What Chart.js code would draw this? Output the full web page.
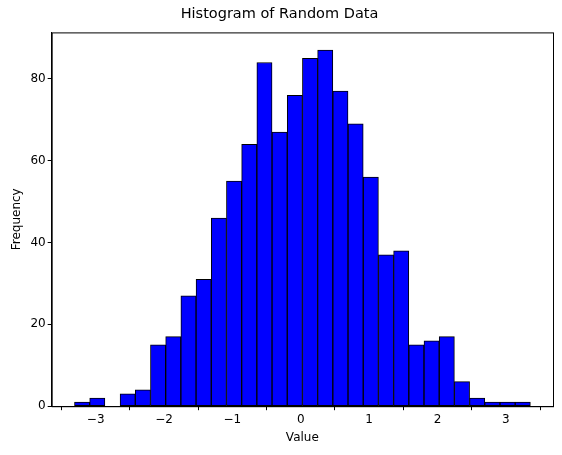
<!DOCTYPE html>
<html><head><script src="https://cdn.jsdelivr.net/npm/chart.js@4"></script>
<style>body{margin:0;background:#fff}#w{width:562px;height:455px}</style></head>
<body><div id="w"><canvas id="c"></canvas></div>
<script>
const binStart = -3.31;
const binWidth = 0.2223;
const counts = [1,2,0,3,4,15,17,27,31,46,55,64,84,67,76,85,87,77,69,56,37,38,15,16,17,6,2,1,1,1];
const xTicks = [-3,-2,-1,0,1,2,3];
const yTicks = [0,20,40,60,80];
const data = counts.map((v,i)=>({x: binStart + binWidth*(i+0.5), y: v}));
const F = {family:'DejaVu Sans',size:12};
new Chart(document.getElementById('c'), {
  type: 'bar',
  data: { datasets: [{ data, backgroundColor:'#0000ff', borderColor:'#000', borderWidth:1, barPercentage:1, categoryPercentage:1, borderSkipped:false }] },
  options: {
    responsive:true, maintainAspectRatio:false, animation:false,
    layout:{padding:{left:6,right:9,top:4,bottom:6}},
    plugins:{legend:{display:false}, tooltip:{enabled:false},
      title:{display:true,text:'Histogram of Random Data',color:'#000',font:{family:'DejaVu Sans',size:14.5,weight:'normal'},padding:{top:2,bottom:9}}},
    scales:{
      x:{type:'linear', offset:false, min:-3.644, max:3.69,
        grid:{display:true,drawOnChartArea:false,drawTicks:true,tickLength:4,color:'#000'},
        border:{color:'#000'},
        afterBuildTicks:s=>{s.ticks=xTicks.map(v=>({value:v}));},
        ticks:{color:'#000',font:F,padding:2,callback:v=>String(v).replace('-','\u2212')},
        title:{display:true,text:'Value',color:'#000',font:F,padding:{top:2}}},
      y:{min:0, max:91.35,
        grid:{display:true,drawOnChartArea:false,drawTicks:true,tickLength:4,color:'#000'},
        border:{color:'#000'},
        afterBuildTicks:s=>{s.ticks=yTicks.map(v=>({value:v}));},
        ticks:{color:'#000',font:F,padding:2},
        title:{display:true,text:'Frequency',color:'#000',font:F,padding:{bottom:4}}}
    }
  },
  plugins:[{id:'frame',afterDraw(c){const a=c.chartArea,x=c.ctx;x.save();x.strokeStyle='#000';x.lineWidth=1;x.strokeRect(a.left+0.5,a.top+0.5,a.right-a.left,a.bottom-a.top);x.restore();}}]
});
</script></body></html>
